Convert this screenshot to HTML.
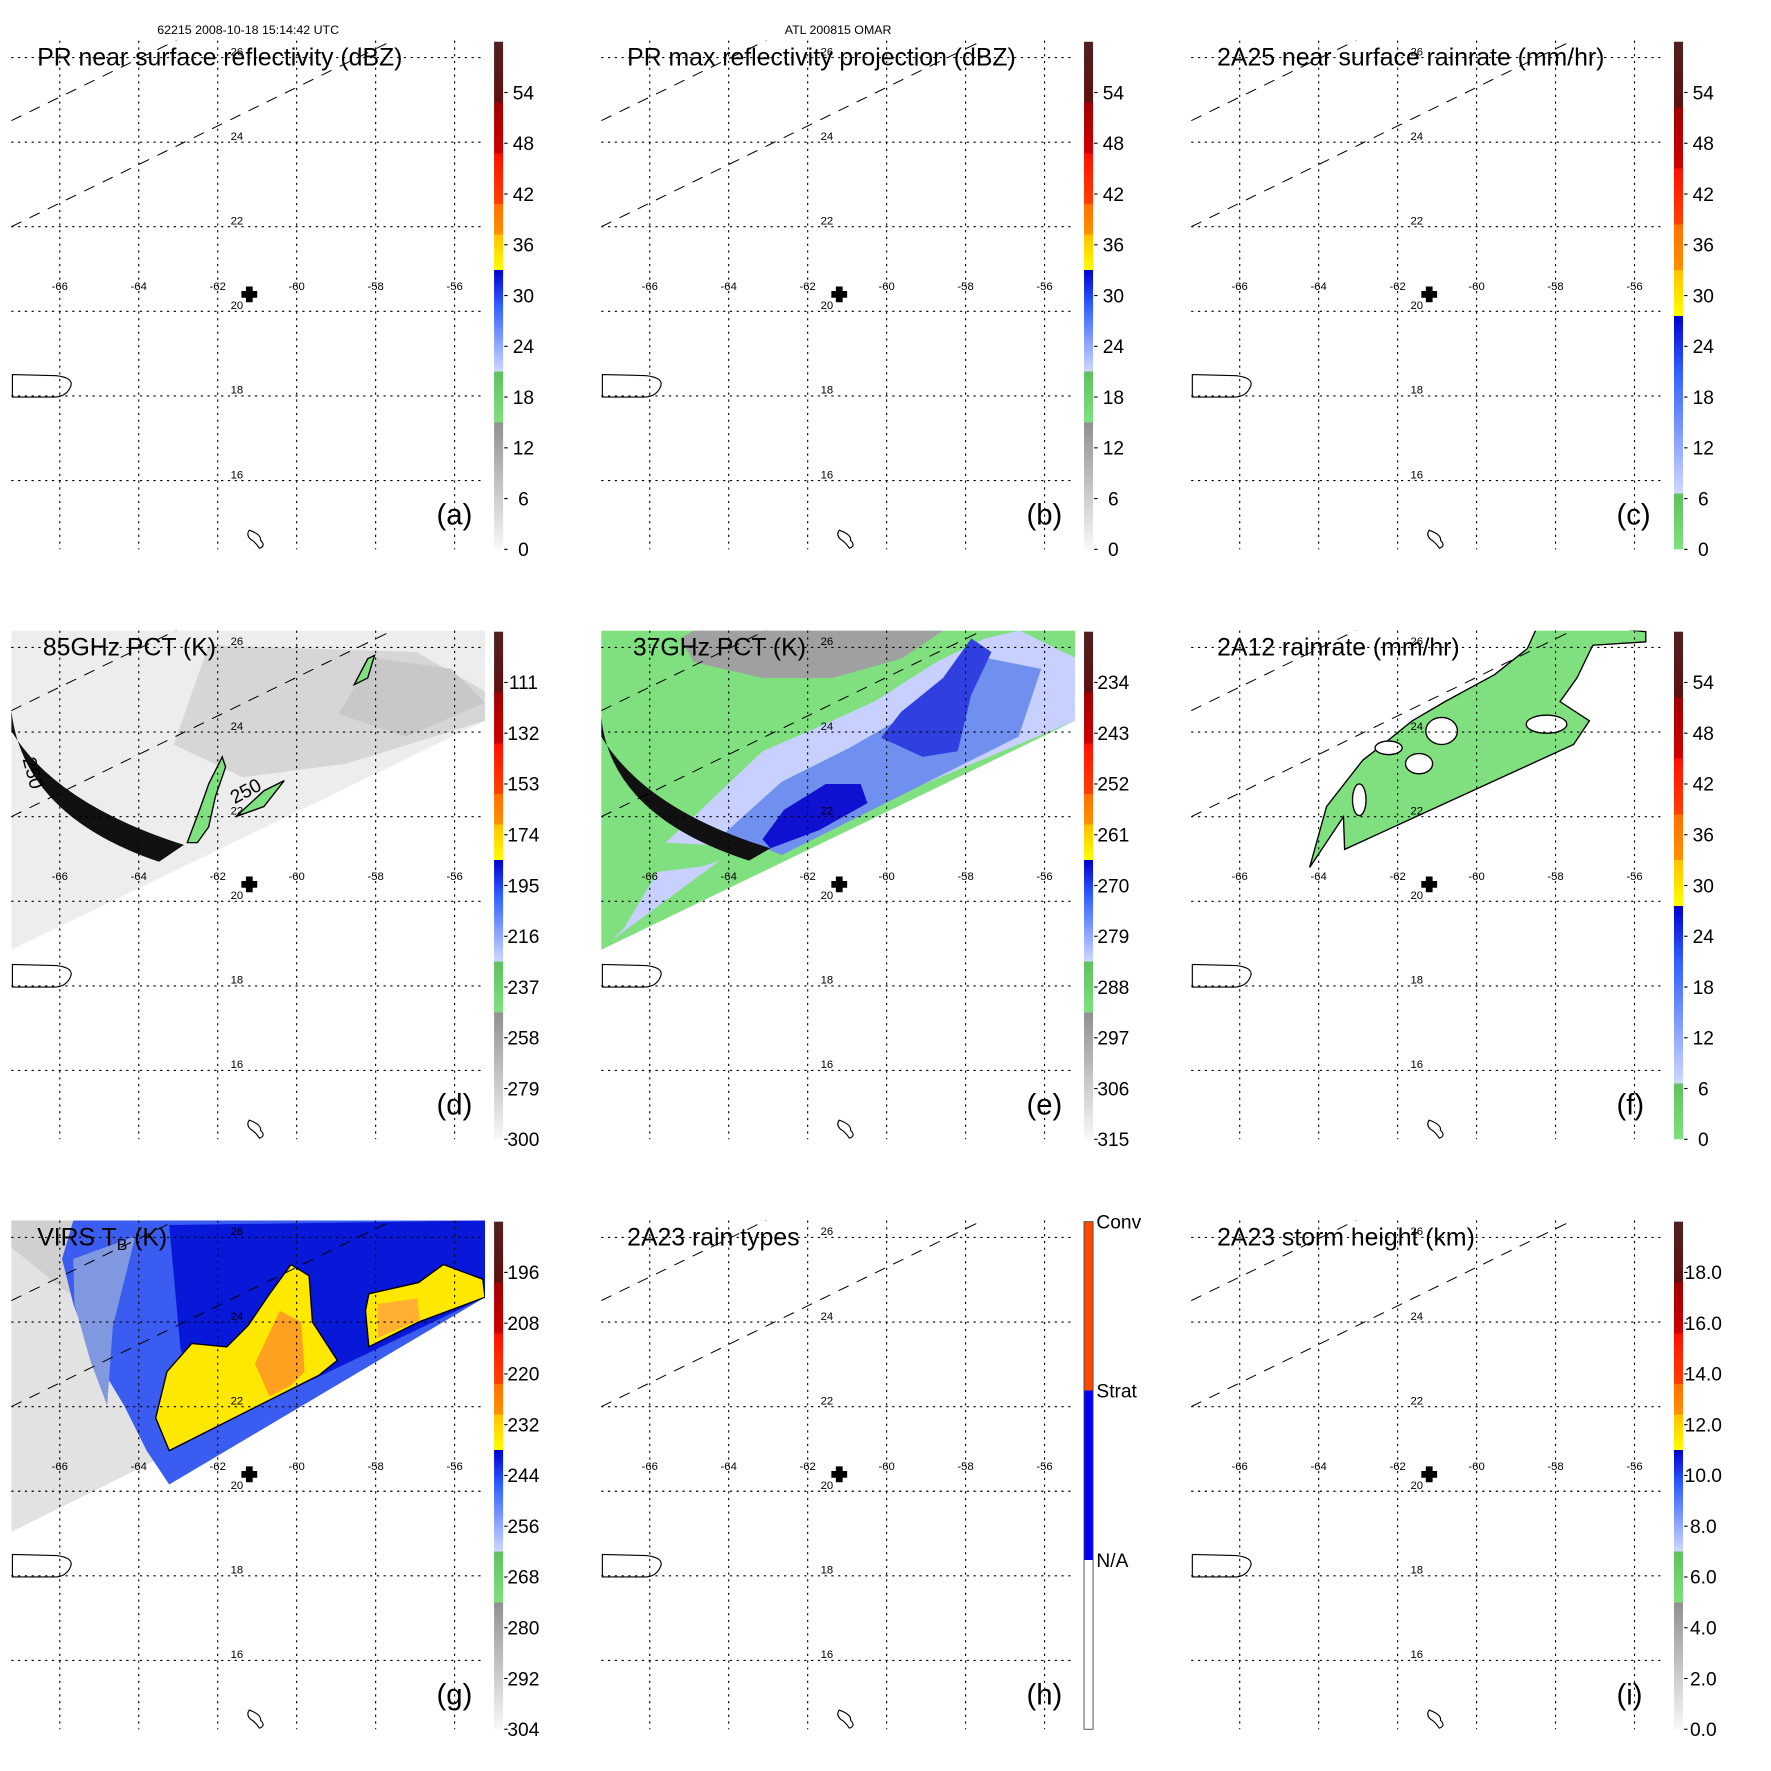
<!DOCTYPE html>
<html><head><meta charset="utf-8"><title>TRMM Omar overpass</title>
<style>html,body{margin:0;padding:0;background:#fff}svg{display:block}text{font-family:"Liberation Sans",sans-serif}</style></head>
<body>
<svg id="fig" xmlns="http://www.w3.org/2000/svg" width="1771" height="1771" viewBox="0 0 1570 1570">
<defs>
<linearGradient id="gStd" x1="0" y1="1" x2="0" y2="0">
<stop offset="0" stop-color="#f8f8f8"/><stop offset="0.25" stop-color="#909090"/>
<stop offset="0.25" stop-color="#80e080"/><stop offset="0.35" stop-color="#60c060"/>
<stop offset="0.35" stop-color="#d0d8ff"/><stop offset="0.48" stop-color="#3060ff"/><stop offset="0.55" stop-color="#0000d0"/>
<stop offset="0.55" stop-color="#ffff00"/><stop offset="0.62" stop-color="#ffc000"/>
<stop offset="0.62" stop-color="#ff9000"/><stop offset="0.68" stop-color="#ff7000"/>
<stop offset="0.68" stop-color="#ff4000"/><stop offset="0.78" stop-color="#ff1000"/>
<stop offset="0.78" stop-color="#d00000"/><stop offset="0.88" stop-color="#a00000"/>
<stop offset="0.88" stop-color="#601010"/><stop offset="1" stop-color="#502020"/>
</linearGradient>
<linearGradient id="gRain" x1="0" y1="1" x2="0" y2="0">
<stop offset="0" stop-color="#80e080"/><stop offset="0.11" stop-color="#60c060"/>
<stop offset="0.11" stop-color="#d0d8ff"/><stop offset="0.35" stop-color="#3060ff"/><stop offset="0.46" stop-color="#0000d0"/>
<stop offset="0.46" stop-color="#ffff00"/><stop offset="0.55" stop-color="#ffc000"/>
<stop offset="0.55" stop-color="#ff9000"/><stop offset="0.64" stop-color="#ff7000"/>
<stop offset="0.64" stop-color="#ff4000"/><stop offset="0.75" stop-color="#ff1000"/>
<stop offset="0.75" stop-color="#d00000"/><stop offset="0.87" stop-color="#a00000"/>
<stop offset="0.87" stop-color="#601010"/><stop offset="1" stop-color="#502020"/>
</linearGradient>
<linearGradient id="gType" x1="0" y1="1" x2="0" y2="0">
<stop offset="0" stop-color="#ffffff"/><stop offset="0.333" stop-color="#ffffff"/>
<stop offset="0.333" stop-color="#0000ff"/><stop offset="0.667" stop-color="#0000ff"/>
<stop offset="0.667" stop-color="#ff4800"/><stop offset="1" stop-color="#ff4800"/>
</linearGradient>
<clipPath id="mapClip"><rect x="10" y="36" width="420" height="451"/></clipPath>
</defs>
</svg>
<script>
const lonTicks=[-66,-64,-62,-60,-58,-56];
const latTicks=[26,24,22,20,18,16];
const cbA=["0","6","12","18","24","30","36","42","48","54"];
const cbC=["0","6","12","18","24","30","36","42","48","54"];
const cbD=["300","279","258","237","216","195","174","153","132","111"];
const cbE=["315","306","297","288","279","270","261","252","243","234"];
const cbG=["304","292","280","268","256","244","232","220","208","196"];
const cbI=["0.0","2.0","4.0","6.0","8.0","10.0","12.0","14.0","16.0","18.0"];
const cbH=["N/A","Strat","Conv"];
const panels=[
 {id:"a",title:"PR near surface reflectivity (dBZ)",cb:cbA,grad:"gStd",col:0,row:0},
 {id:"b",title:"PR max reflectivity projection (dBZ)",cb:cbA,grad:"gStd",col:1,row:0},
 {id:"c",title:"2A25 near surface rainrate (mm/hr)",cb:cbC,grad:"gRain",col:2,row:0},
 {id:"d",title:"85GHz PCT (K)",cb:cbD,grad:"gStd",col:0,row:1},
 {id:"e",title:"37GHz PCT (K)",cb:cbE,grad:"gStd",col:1,row:1},
 {id:"f",title:"2A12 rainrate (mm/hr)",cb:cbC,grad:"gRain",col:2,row:1},
 {id:"g",title:"VIRS T",cb:cbG,grad:"gStd",col:0,row:2},
 {id:"h",title:"2A23 rain types",cb:cbH,grad:"gType",col:1,row:2},
 {id:"i",title:"2A23 storm height (km)",cb:cbI,grad:"gStd",col:2,row:2}
];
const NS="http://www.w3.org/2000/svg";
const svg=document.getElementById('fig');
function lonX(l){return 53+(l+66)*35;}
function latY(l){return 276-(l-20)*37.5;}
function mk(tag,attrs,parent){const e=document.createElementNS(NS,tag);for(const k in attrs)e.setAttribute(k,attrs[k]);parent.appendChild(e);return e;}
function poly(pts,fill,parent,stroke){return mk('polygon',{points:pts.map(p=>p.join(',')).join(' '),fill:fill,stroke:stroke||'none','stroke-width':1.2},parent);}
const swath=[[10,36],[430,36],[430,116],[10,319]];

const t1=mk('text',{x:220,y:30,'font-size':11,'text-anchor':'middle'},svg);t1.textContent="62215 2008-10-18 15:14:42 UTC";


const t2=mk('text',{x:743,y:30,'font-size':11,'text-anchor':'middle'},svg);t2.textContent="ATL 200815 OMAR";



panels.forEach(p=>{
 const g=mk('g',{transform:`translate(${p.col*523},${p.row*523})`},svg);
 
 
 const m=mk('g',{'clip-path':'url(#mapClip)'},g);
 
 
 if(p.id==='d'){
  poly(swath,'#ededed',m);
  poly([[185,49],[369,55],[430,90],[430,116],[307,154],[215,166],[154,137]],'#d6d6d6',m);
  poly([[330,60],[400,70],[430,100],[360,130],[300,110]],'#c8c8c8',m);
  const arc=mk('path',{d:'M10,106 Q20,200 141,241 L163,226 Q50,190 10,125 Z',fill:'#111'},m);
  
  
  [[[166,224],[178,192],[185,172],[197,148],[200,157],[191,183],[185,210],[175,224]],[[209,201],[234,178],[252,169],[234,192]],[[314,84],[326,61],[332,58],[326,78]]].forEach(b=>poly(b,'#80e080',m,'#000'));
  const l1=mk('text',{x:20,y:150,'font-size':17,transform:'rotate(75 20 150)'},m);l1.textContent='250';
  const l2=mk('text',{x:208,y:190,'font-size':17,transform:'rotate(-28 208 190)'},m);l2.textContent='250';
 }
 if(p.id==='e'){
  poly(swath,'#80e080',m);
  poly([[92,36],[313,36],[276,61],[215,78],[153,78],[92,64],[80,43]],'#a0a0a0',m);
  poly([[67,224],[92,201],[153,143],[215,116],[252,99],[307,64],[350,43],[381,36],[430,60],[430,116],[160,229]],'#c8d0ff',m);
  poly([[30,300],[60,250],[100,245],[115,240],[20,310]],'#c8d0ff',m);
  poly([[120,215],[170,170],[230,140],[300,100],[350,60],[400,70],[380,130],[170,235]],'#7090f0',m);
  poly([[153,221],[172,195],[209,172],[240,172],[246,189],[203,213],[160,229]],'#1010d0',m);
  poly([[258,131],[276,108],[313,78],[338,43],[356,55],[338,93],[326,143],[295,148]],'#3040e0',m);
  mk('path',{d:'M10,112 Q18,200 141,240 L160,229 Q50,195 10,130 Z',fill:'#111'},m);
 }
 if(p.id==='f'){
  poly([[115,246],[130,192],[162,151],[180,137],[206,116],[235,99],[279,75],[308,52],[317,32],[366,32],[413,37],[413,46],[366,49],[352,78],[337,99],[363,116],[349,137],[146,230],[145,201]],'#80e080',m,'#000');
  [[185,140,12,6],[232,125,14,12],[212,154,12,9],[325,119,18,8],[159,186,6,14]].forEach(h=>mk('ellipse',{cx:h[0],cy:h[1],rx:h[2],ry:h[3],fill:'#fff',stroke:'#000','stroke-width':1.2},m));
 }
 if(p.id==='g'){
  poly([[10,36],[430,36],[430,104],[10,312]],'#e2e2e2',m);
  poly([[10,36],[200,36],[150,80],[100,110],[60,100],[10,60]],'#d0d0d0',m);
  poly([[65,36],[430,36],[430,104],[150,270],[130,240],[110,200],[80,150],[65,110],[55,70]],'#3a5cf0',m);
  poly([[65,70],[120,50],[100,130],[95,200],[80,160],[66,110]],'#8098e0',m);
  poly([[150,40],[430,36],[430,104],[250,190],[180,200],[160,150]],'#0818d8',m);
  poly([[138,211],[148,170],[170,145],[201,148],[220,129],[239,101],[258,75],[274,85],[277,126],[299,160],[283,173],[150,240]],'#ffe800',m,'#000');
  poly([[226,163],[248,116],[267,126],[270,170],[258,182],[239,192]],'#ffa020',m);
  poly([[327,101],[371,91],[393,75],[428,88],[430,104],[371,126],[327,148],[324,116]],'#ffe800',m,'#000');
  poly([[335,110],[370,105],[372,124],[335,140]],'#ffb030',m);
 }
 const gr=mk('g',{stroke:'#000','stroke-width':1,'stroke-dasharray':'2,4'},g);
 
 
 lonTicks.forEach(l=>mk('line',{x1:lonX(l),y1:36,x2:lonX(l),y2:487},gr));
 latTicks.forEach(l=>mk('line',{x1:10,y1:latY(l),x2:430,y2:latY(l)},gr));
 const se=mk('g',{stroke:'#000','stroke-width':0.9,'stroke-dasharray':'10,8',fill:'none','clip-path':'url(#mapClip)'},g);
 
 
 mk('line',{x1:10,y1:107,x2:160,y2:34},se);
 mk('line',{x1:10,y1:201,x2:350,y2:35},se);
 lonTicks.forEach(l=>{const t=mk('text',{x:lonX(l),y:257,'font-size':10,'text-anchor':'middle'},g);t.textContent=String(l);});
 latTicks.forEach(l=>{const t=mk('text',{x:210,y:latY(l)-2,'font-size':10,'text-anchor':'middle'},g);t.textContent=String(l);});
 mk('path',{d:'M11,332 L50,333 Q67,335 62,344 Q58,352 48,352 L11,352 Z',fill:'none',stroke:'#000','stroke-width':1},g);
 mk('path',{d:'M221,470 Q232,474 231,479 Q236,484 230,486 Q226,480 222,478 Q218,474 221,470 Z',fill:'none',stroke:'#000','stroke-width':1},g);
 const cr=mk('path',{d:'M218,254 h6 v4 h4 v6 h-4 v4 h-6 v-4 h-4 v-6 h4 Z',fill:'#000'},g);
 
 
 const tt=mk('text',{x:p.id==='d'||p.id==='e'?38:33,y:58,'font-size':22},g);
 tt.textContent=p.title;
 if(p.id==='g'){const s=mk('tspan',{'font-size':14,dy:4},tt);s.textContent='B';const s2=mk('tspan',{dy:-4},tt);s2.textContent=' (K)';}
 
 
 const pl=mk('text',{x:387,y:465,'font-size':26},g);pl.textContent='('+p.id+')';
 
 
 const cb=mk('g',{},g);
 
 
 mk('rect',{x:438,y:37,width:8,height:450,fill:`url(#${p.grad})`,stroke:p.id==='h'?'#444':'none','stroke-width':0.8},cb);
 if(p.id==='h'){
  p.cb.forEach((lab,i)=>{const yy=487-150*(i+1);const t=mk('text',{x:449,y:yy+6,'font-size':17},cb);t.textContent=lab;});
 }else{
  const step=45;
  p.cb.forEach((lab,i)=>{const y=487-i*step;mk('line',{x1:447,y1:y,x2:450,y2:y,stroke:'#000'},cb);const t=mk('text',{x:464,y:y+6,'font-size':17,'text-anchor':'middle'},cb);t.textContent=lab;});
 }
});
</script>
</body></html>
